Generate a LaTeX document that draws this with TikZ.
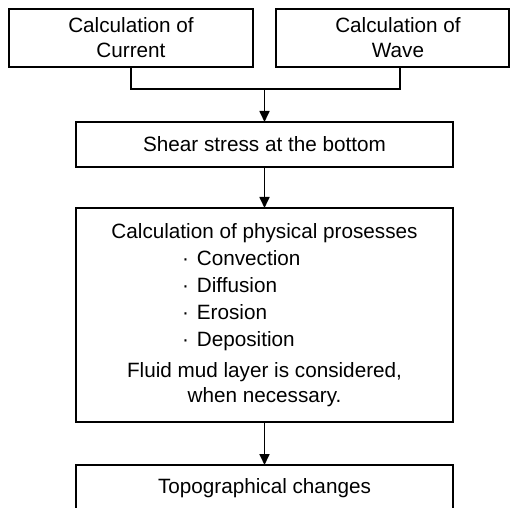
\documentclass[tikz,border=0pt]{standalone}
\usepackage{fontspec}
\setmainfont{Liberation Sans}
\usetikzlibrary{positioning,arrows.meta}

\begin{document}
\begin{tikzpicture}[x=1pt,y=-1pt,
    font=\fontsize{20.7}{27}\selectfont,
    line width=1.7pt,
    >={Triangle[length=11pt,width=10pt]},
    box/.style={draw, align=center, inner sep=0, outer sep=0,
        minimum width=377pt}]
\useasboundingbox (0,0) rectangle (512,508);

% Input blocks
\node[box,
    minimum width=244pt,
    minimum height=58pt
] (current) at (131,38) {Calculation of\\[-2pt]Current};

\node[box,
    minimum width=233pt,
    minimum height=58pt,
    right= 23pt of current
] (wave) {\hspace*{11pt}Calculation of\\[-2pt]\hspace*{11pt}Wave};

% Bottom stress block
\node[box,
    minimum height=45pt
] (shear) at (264.5,144.5) {Shear stress at the bottom};

% Physical processes block
\node[box,
    minimum height=214pt,
    below= 41pt of shear
] (process) {Calculation of physical prosesses\\
    \makebox[165pt][l]{·\hspace{8pt}Convection}\\
    \makebox[165pt][l]{·\hspace{8pt}Diffusion}\\
    \makebox[165pt][l]{·\hspace{8pt}Erosion}\\
    \makebox[165pt][l]{·\hspace{8pt}Deposition}\\[4pt]
    Fluid mud layer is considered,\\[-2pt]
    when necessary.};

% Topography block
\node[box,
    minimum height=46pt,
    below= 43pt of process
] (topo) {Topographical changes};

% Arrows
\coordinate (merge) at (264.5,89);
\draw (current.south) |- (merge) -| (wave.south -| 400,0);
\draw[->] (merge) -- (shear);
\draw[->] (shear) -- (process);
\draw[->] (process) -- (topo);

\end{tikzpicture}
\end{document}
